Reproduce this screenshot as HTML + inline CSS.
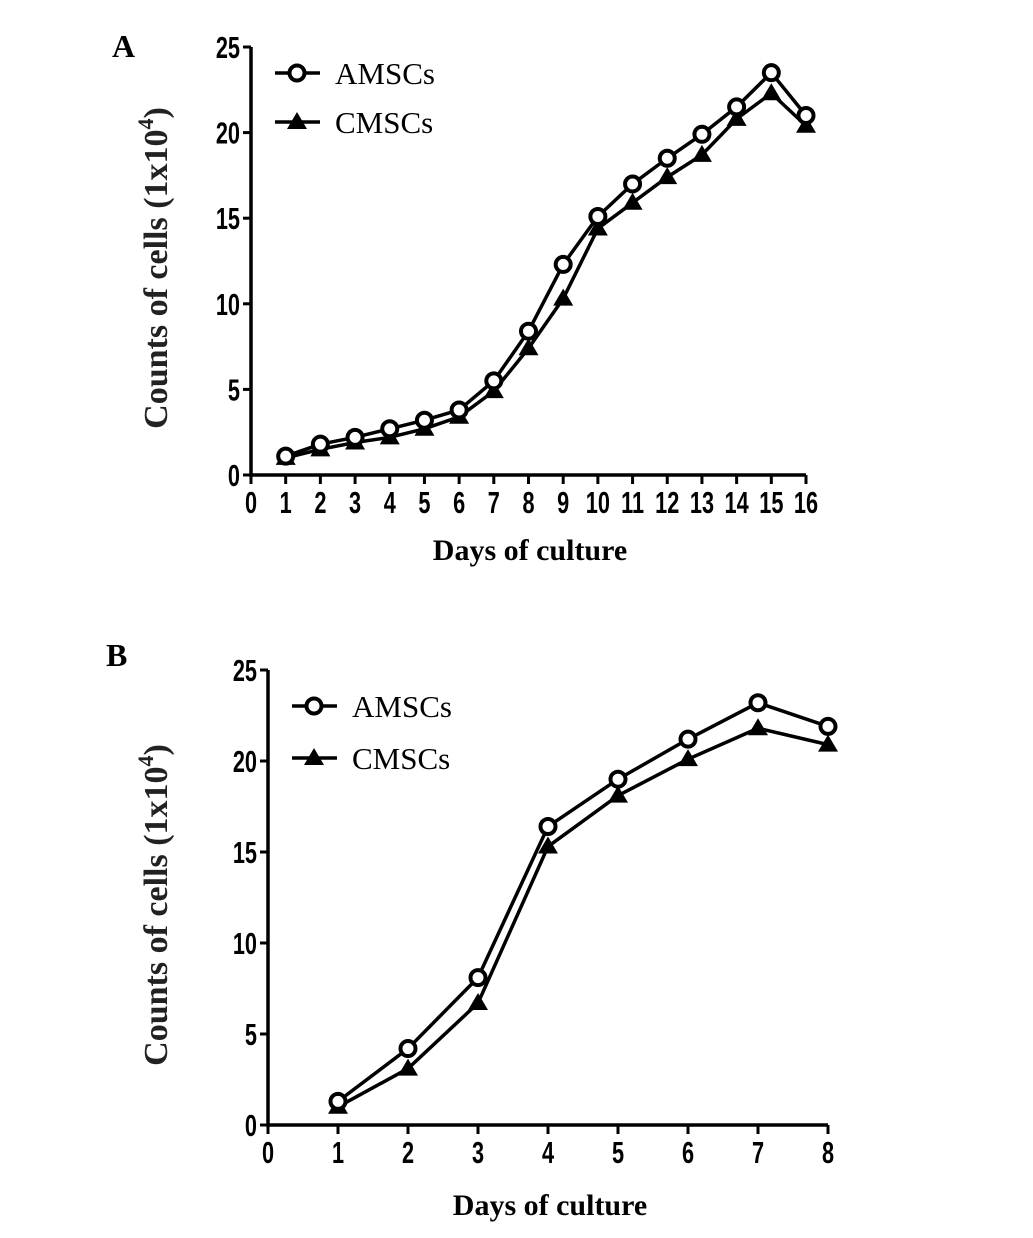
<!DOCTYPE html>
<html><head><meta charset="utf-8"><style>
body{margin:0;background:#fff}
svg text{font-family:"Liberation Sans",sans-serif}
.ser{font-family:"Liberation Serif",serif}
</style></head><body>
<svg id="svg" width="1033" height="1233" xmlns="http://www.w3.org/2000/svg">
<text class="ser" x="112" y="57" font-size="32" font-weight="bold">A</text>
<text class="ser" x="106" y="666" font-size="32" font-weight="bold">B</text>
</svg>
<script>
const daysA=[1,2,3,4,5,6,7,8,9,10,11,12,13,14,15,16];
const amscA=[1.1,1.8,2.2,2.7,3.2,3.8,5.5,8.4,12.3,15.1,17,18.5,19.9,21.5,23.5,21];
const cmscA=[1.0,1.5,1.9,2.2,2.7,3.4,4.9,7.4,10.3,14.4,15.9,17.4,18.7,20.8,22.3,20.4];
const daysB=[1,2,3,4,5,6,7,8];
const amscB=[1.3,4.2,8.1,16.4,19,21.2,23.2,21.9];
const cmscB=[1.0,3.1,6.7,15.3,18.1,20.1,21.8,20.9];
const yTicks=[0,5,10,15,20,25];
const svg=document.getElementById('svg');
const NS='http://www.w3.org/2000/svg';
function mk(t,a,p){const e=document.createElementNS(NS,t);for(const k in a)e.setAttribute(k,a[k]);(p||svg).appendChild(e);return e;}
function panel(id,cfg,days,A,C){
 const g=mk('g',{});
 
 
 const sx=v=>cfg.x0+(v/cfg.xmax)*(cfg.x1-cfg.x0);
 const sy=v=>cfg.y0-(v/25)*(cfg.y0-cfg.y1);
 let e=mk('line',{x1:cfg.x0,y1:sy(0),x2:cfg.x1,y2:sy(0),stroke:'#000','stroke-width':3.5},g);
 
 e=mk('line',{x1:cfg.x0,y1:sy(0)+2,x2:cfg.x0,y2:cfg.y1,stroke:'#000','stroke-width':3.5},g);
 
 for(let i=0;i<=cfg.xmax;i++){
  mk('line',{x1:sx(i),y1:sy(0),x2:sx(i),y2:sy(0)+9,stroke:'#000','stroke-width':3},g);
  e=mk('text',{x:0,y:0,'text-anchor':'middle','font-size':31,'font-weight':'bold','font-family':'Liberation Sans, sans-serif',transform:`translate(${sx(i)},${sy(0)+38}) scale(0.7,1)`},g);
  e.textContent=i;
  
 }
 yTicks.forEach(v=>{
  mk('line',{x1:cfg.x0-8,y1:sy(v),x2:cfg.x0,y2:sy(v),stroke:'#000','stroke-width':3},g);
  e=mk('text',{x:0,y:0,'text-anchor':'end','font-size':31,'font-weight':'bold','font-family':'Liberation Sans, sans-serif',transform:`translate(${cfg.x0-11},${sy(v)+11}) scale(0.7,1)`},g);
  e.textContent=v;
  
 });
 const line=(vals,name)=>{
  e=mk('polyline',{points:days.map((d,i)=>sx(d)+','+sy(vals[i])).join(' '),fill:'none',stroke:'#000','stroke-width':3.5},g);
  
 };
 line(C,'cmscs-line');line(A,'amscs-line');
 const tri=(x,y)=>{e=mk('polygon',{points:`${x},${y-10} ${x-10},${y+7} ${x+10},${y+7}`,fill:'#000'},g);};
 const circ=(x,y)=>{e=mk('circle',{cx:x,cy:y,r:7.5,fill:'#fff',stroke:'#000','stroke-width':4},g);};
 days.forEach((d,i)=>tri(sx(d),sy(C[i])));
 days.forEach((d,i)=>circ(sx(d),sy(A[i])));
 const L=cfg.leg;
 mk('line',{x1:L.x,y1:L.y1,x2:L.x+45,y2:L.y1,stroke:'#000','stroke-width':3.5},g);
 circ(L.x+22,L.y1);
 mk('line',{x1:L.x,y1:L.y2,x2:L.x+45,y2:L.y2,stroke:'#000','stroke-width':3.5},g);
 tri(L.x+22,L.y2);
 e=mk('text',{x:L.x+60,y:L.y1+11,class:'ser','font-size':31},g);e.textContent='AMSCs';
 
 e=mk('text',{x:L.x+60,y:L.y2+11,class:'ser','font-size':31},g);e.textContent='CMSCs';
 
 e=mk('text',{x:cfg.xt,y:cfg.xty,'text-anchor':'middle',class:'ser','font-size':30,'font-weight':'bold'},g);
 e.textContent='Days of culture';
 
 e=mk('text',{x:0,y:0,'text-anchor':'middle',class:'ser','font-size':34,'font-weight':'bold',fill:'#222',transform:`translate(${cfg.ytx},${cfg.yty}) rotate(-90)`},g);
 e.innerHTML='Counts of cells (1x10<tspan dy="-14" font-size="22">4</tspan><tspan dy="14">)</tspan>';
 
}
panel('chart-a',{x0:251,x1:806,xmax:16,y0:475,y1:47,leg:{x:275,y1:73,y2:122},xt:530,xty:560,ytx:167,yty:268},daysA,amscA,cmscA);
panel('chart-b',{x0:268,x1:828,xmax:8,y0:1125,y1:670,leg:{x:292,y1:706,y2:758},xt:550,xty:1215,ytx:167,yty:905},daysB,amscB,cmscB);
</script>
</body></html>
